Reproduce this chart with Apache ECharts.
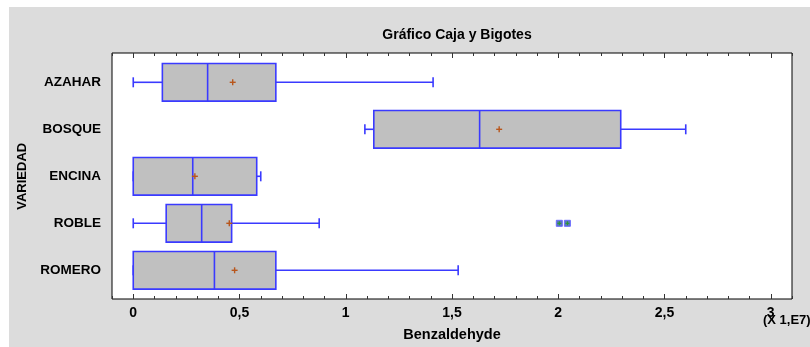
<!DOCTYPE html>
<html>
<head>
<meta charset="utf-8">
<script src="https://cdn.jsdelivr.net/npm/echarts@6/dist/echarts.min.js"></script>
<style>
html,body{margin:0;padding:0;background:#fff;}
#c{width:810px;height:347px;}
</style>
</head>
<body>
<div id="c"></div>
<script>
// Values in units of 1E7
const categories = ['AZAHAR', 'BOSQUE', 'ENCINA', 'ROBLE', 'ROMERO'];
const whiskerLow  = [0.000, 1.090, 0.000, 0.000, 0.000];
const q1          = [0.137, 1.132, 0.000, 0.155, 0.000];
const median      = [0.350, 1.630, 0.280, 0.322, 0.382];
const q3          = [0.671, 2.294, 0.581, 0.463, 0.671];
const whiskerHigh = [1.411, 2.600, 0.600, 0.875, 1.529];
const means       = [0.468, 1.722, 0.290, 0.452, 0.477];
const outlierCategory = ['ROBLE', 'ROBLE'];
const outlierValues   = [2.005, 2.043];
const majorTicks = ['0', '0,5', '1', '1,5', '2', '2,5', '3'];

const FONT = 'Liberation Sans';
const BLUE = '#3a3aff';

const boxData = categories.map((c, i) => [i, whiskerLow[i], q1[i], median[i], q3[i], whiskerHigh[i], means[i]]);
const outData = outlierValues.map((v, i) => [categories.indexOf(outlierCategory[i]), v]);

function renderBox(params, api) {
  const ci = api.value(0);
  const pLow = api.coord([api.value(1), ci]);
  const pQ1 = api.coord([api.value(2), ci]);
  const pMed = api.coord([api.value(3), ci]);
  const pQ3 = api.coord([api.value(4), ci]);
  const pHigh = api.coord([api.value(5), ci]);
  const pMean = api.coord([api.value(6), ci]);
  const band = api.size([0, 1])[1];
  const h = band * 0.8;
  const cap = 5;
  const y = pQ1[1];
  const ls = {stroke: BLUE, lineWidth: 1.6, fill: null};
  const ch = [];
  ch.push({type: 'line', shape: {x1: pLow[0], y1: y, x2: pQ1[0], y2: y}, style: ls});
  ch.push({type: 'line', shape: {x1: pQ3[0], y1: y, x2: pHigh[0], y2: y}, style: ls});
  ch.push({type: 'line', shape: {x1: pLow[0], y1: y - cap, x2: pLow[0], y2: y + cap}, style: ls});
  ch.push({type: 'line', shape: {x1: pHigh[0], y1: y - cap, x2: pHigh[0], y2: y + cap}, style: ls});
  ch.push({type: 'rect', shape: {x: pQ1[0], y: y - h / 2, width: pQ3[0] - pQ1[0], height: h},
           style: {fill: '#c0c0c0', stroke: BLUE, lineWidth: 1.6}});
  ch.push({type: 'line', shape: {x1: pMed[0], y1: y - h / 2, x2: pMed[0], y2: y + h / 2}, style: ls});
  const m = 3;
  const ms = {stroke: '#b8561c', lineWidth: 1.4};
  ch.push({type: 'line', shape: {x1: pMean[0] - m, y1: y, x2: pMean[0] + m, y2: y}, style: ms});
  ch.push({type: 'line', shape: {x1: pMean[0], y1: y - m, x2: pMean[0], y2: y + m}, style: ms});
  return {type: 'group', children: ch};
}

function renderOutlier(params, api) {
  const p = api.coord([api.value(1), api.value(0)]);
  const s = 3;
  return {type: 'group', children: [
    {type: 'rect', shape: {x: p[0] - s, y: p[1] - s, width: 2 * s, height: 2 * s},
     style: {fill: '#5a78b8', stroke: '#6a6aff', lineWidth: 1}},
    {type: 'line', shape: {x1: p[0] - 2, y1: p[1], x2: p[0] + 2, y2: p[1]}, style: {stroke: '#2a9a2a', lineWidth: 1}},
    {type: 'line', shape: {x1: p[0], y1: p[1] - 2, x2: p[0], y2: p[1] + 2}, style: {stroke: '#2a9a2a', lineWidth: 1}}
  ]};
}

const chart = echarts.init(document.getElementById('c'), null, {renderer: 'canvas'});
const tickCommon = {show: true, inside: true, length: 3, lineStyle: {color: '#333', width: 1}};
chart.setOption({
  backgroundColor: '#ffffff',
  animation: false,
  title: {
    text: 'Gráfico Caja y Bigotes',
    left: 452, top: 23, textAlign: 'center',
    textStyle: {fontFamily: FONT, fontSize: 14, fontWeight: 'bold', color: '#000'}
  },
  graphic: [
    {type: 'rect', z: -10, left: 9, top: 7, shape: {width: 801, height: 340}, style: {fill: '#dcdcdc'}},
    {type: 'text', left: 763, top: 314, style: {text: '(X 1,E7)', font: 'bold 13px ' + FONT, fill: '#000'}}
  ],
  grid: [
    {left: 112, right: 18, top: 53, bottom: 48, show: true, backgroundColor: '#fff', borderColor: '#000', borderWidth: 1},
    {left: 112, right: 18, top: 58.8, bottom: 53.2},
    {left: 133.25, right: 39.25, top: 53, bottom: 48}
  ],
  xAxis: [
    {gridIndex: 0, type: 'value', position: 'bottom', min: -0.1, max: 3.1, interval: 0.1,
     axisLine: {show: false}, axisTick: tickCommon, axisLabel: {show: false}, splitLine: {show: false}},
    {gridIndex: 0, type: 'value', position: 'top', min: -0.1, max: 3.1, interval: 0.1,
     axisLine: {show: false}, axisTick: tickCommon, axisLabel: {show: false}, splitLine: {show: false}},
    {gridIndex: 1, type: 'value', min: -0.1, max: 3.1, show: false},
    {gridIndex: 2, type: 'value', position: 'bottom', min: 0, max: 3, interval: 0.5,
     axisLine: {show: false},
     axisTick: {show: true, inside: true, length: 5, lineStyle: {color: '#333', width: 1}},
     axisLabel: {show: true, margin: 7, fontFamily: FONT, fontSize: 14, fontWeight: 'bold', color: '#000',
       formatter: function (v) { return majorTicks[Math.round(v * 2)]; }},
     splitLine: {show: false},
     name: 'Benzaldehyde', nameLocation: 'middle', nameGap: 28,
     nameTextStyle: {fontFamily: FONT, fontSize: 14.5, fontWeight: 'bold', color: '#000'}},
    {gridIndex: 2, type: 'value', position: 'top', min: 0, max: 3, interval: 0.5,
     axisLine: {show: false},
     axisTick: {show: true, inside: true, length: 5, lineStyle: {color: '#333', width: 1}},
     axisLabel: {show: false}, splitLine: {show: false}}
  ],
  yAxis: [
    {gridIndex: 0, type: 'value', show: false},
    {gridIndex: 1, type: 'category', data: categories, inverse: true,
     axisLine: {show: false}, axisTick: {show: false}, splitLine: {show: false},
     axisLabel: {margin: 11, fontFamily: FONT, fontSize: 13.5, fontWeight: 'bold', color: '#000'},
     name: 'VARIEDAD', nameLocation: 'middle', nameGap: 81, nameRotate: 90,
     nameTextStyle: {fontFamily: FONT, fontSize: 13, fontWeight: 'bold', color: '#000'}},
    {gridIndex: 2, type: 'value', show: false}
  ],
  series: [
    {type: 'custom', xAxisIndex: 2, yAxisIndex: 1, renderItem: renderBox, data: boxData,
     encode: {x: [1, 2, 3, 4, 5, 6], y: 0}, clip: false},
    {type: 'custom', xAxisIndex: 2, yAxisIndex: 1, renderItem: renderOutlier, data: outData,
     encode: {x: 1, y: 0}}
  ]
});
</script>
</body>
</html>
